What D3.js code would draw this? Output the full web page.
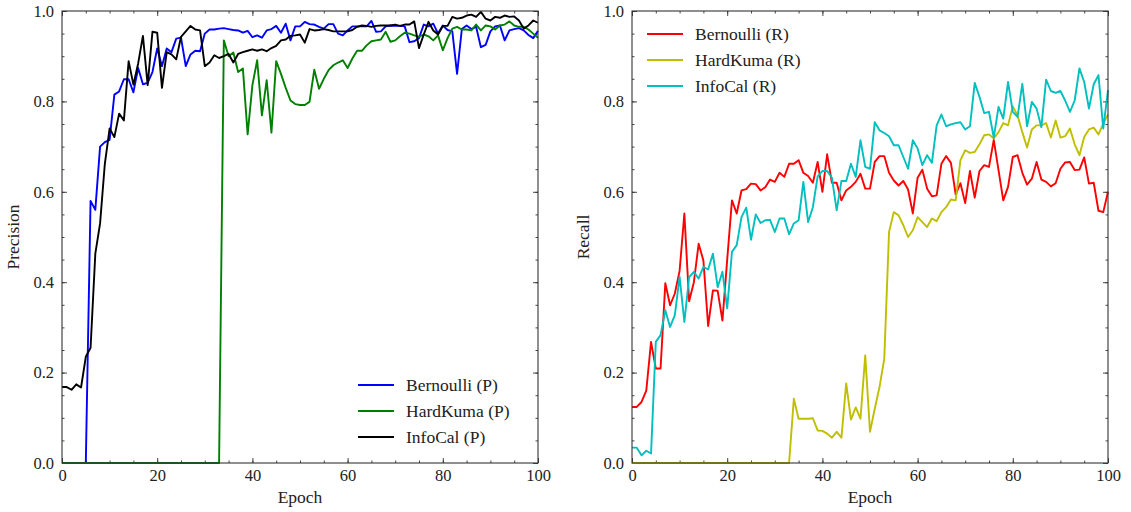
<!DOCTYPE html>
<html>
<head>
<meta charset="utf-8">
<script src="https://cdn.jsdelivr.net/npm/d3@7"></script>
<style>
  body { margin: 0; background: #fff; }
</style>
</head>
<body>
<svg id="chart" width="1131" height="512"></svg>
<script>
// epochs on the x axis
var epochs = d3.range(0, 101);

// precision curves (left panel)
var bernoulliP = [0,0,0,0,0,0,0.58,0.56,0.70,0.71,0.715,0.815,0.822,0.849,0.849,0.82,0.874,0.838,0.841,0.865,
  0.917,0.878,0.917,0.909,0.939,0.941,0.878,0.904,0.912,0.911,0.95,0.959,0.959,0.961,0.962,0.96,0.958,0.957,0.952,0.956,
  0.942,0.946,0.941,0.957,0.96,0.967,0.952,0.972,0.935,0.966,0.966,0.976,0.971,0.97,0.965,0.961,0.971,0.971,0.95,0.946,
  0.957,0.966,0.966,0.966,0.966,0.978,0.954,0.955,0.966,0.968,0.967,0.967,0.966,0.931,0.933,0.94,0.97,0.966,0.972,0.95,
  0.968,0.958,0.955,0.861,0.96,0.968,0.96,0.965,0.92,0.925,0.955,0.966,0.968,0.935,0.957,0.96,0.962,0.957,0.947,0.94,0.956];
var hardkumaP = [0,0,0,0,0,0,0,0,0,0,0,0,0,0,0,0,0,0,0,0,
  0,0,0,0,0,0,0,0,0,0,0,0,0,0,0.935,0.90,0.908,0.865,0.873,0.727,
  0.836,0.891,0.769,0.847,0.731,0.889,0.861,0.83,0.802,0.794,0.792,0.792,0.799,0.870,0.828,0.850,0.869,0.880,0.886,0.891,
  0.874,0.895,0.912,0.912,0.924,0.933,0.935,0.937,0.954,0.932,0.935,0.944,0.952,0.950,0.946,0.943,0.948,0.944,0.935,0.946,
  0.913,0.940,0.961,0.965,0.959,0.959,0.957,0.970,0.957,0.968,0.966,0.959,0.968,0.970,0.977,0.968,0.965,0.965,0.959,0.950,0.941];
var infocalP = [0.168,0.168,0.162,0.174,0.167,0.235,0.255,0.463,0.530,0.662,0.740,0.721,0.773,0.758,0.889,0.837,0.884,0.945,0.836,0.954,
  0.952,0.830,0.909,0.904,0.893,0.943,0.955,0.967,0.959,0.957,0.878,0.886,0.902,0.896,0.900,0.905,0.886,0.905,0.909,0.912,
  0.915,0.912,0.915,0.911,0.918,0.923,0.935,0.937,0.945,0.946,0.948,0.930,0.960,0.957,0.958,0.960,0.958,0.955,0.955,0.955,
  0.955,0.958,0.965,0.968,0.967,0.965,0.967,0.968,0.968,0.968,0.970,0.967,0.970,0.970,0.977,0.918,0.948,0.976,0.957,0.948,
  0.967,0.967,0.987,0.983,0.985,0.990,0.992,0.987,0.998,0.983,0.979,0.987,0.985,0.990,0.987,0.988,0.979,0.961,0.968,0.979,0.974];

// recall curves (right panel)
var bernoulliR = [0.124,0.124,0.135,0.16,0.268,0.209,0.209,0.398,0.349,0.375,0.425,0.552,0.358,0.40,0.485,0.448,0.303,0.382,0.381,0.315,
  0.45,0.581,0.552,0.603,0.606,0.618,0.617,0.603,0.61,0.627,0.622,0.642,0.633,0.662,0.662,0.670,0.642,0.635,0.62,0.666,
  0.60,0.683,0.62,0.62,0.581,0.603,0.611,0.622,0.640,0.607,0.607,0.666,0.679,0.679,0.642,0.625,0.614,0.624,0.605,0.552,
  0.631,0.649,0.607,0.590,0.592,0.662,0.679,0.664,0.594,0.619,0.575,0.646,0.587,0.646,0.659,0.655,0.715,0.648,0.581,0.611,
  0.677,0.681,0.642,0.616,0.629,0.666,0.627,0.622,0.612,0.619,0.651,0.665,0.666,0.648,0.649,0.676,0.618,0.620,0.558,0.555,0.600];
var hardkumaR = [0,0,0,0,0,0,0,0,0,0,0,0,0,0,0,0,0,0,0,0,
  0,0,0,0,0,0,0,0,0,0,0,0,0,0,0.142,0.098,0.098,0.098,0.099,0.072,
  0.071,0.065,0.056,0.069,0.056,0.176,0.096,0.123,0.098,0.238,0.069,0.120,0.168,0.231,0.511,0.555,0.548,0.526,0.500,0.515,
  0.544,0.533,0.522,0.541,0.535,0.555,0.566,0.583,0.581,0.670,0.692,0.686,0.688,0.705,0.725,0.727,0.718,0.732,0.752,0.747,
  0.789,0.769,0.732,0.698,0.738,0.747,0.747,0.752,0.720,0.758,0.720,0.723,0.740,0.705,0.681,0.721,0.738,0.742,0.727,0.751,0.771];
var infocalR = [0.034,0.034,0.017,0.027,0.021,0.268,0.283,0.338,0.301,0.327,0.412,0.312,0.411,0.423,0.408,0.434,0.428,0.463,0.389,0.423,
  0.342,0.467,0.482,0.544,0.565,0.494,0.550,0.531,0.537,0.538,0.511,0.541,0.541,0.506,0.530,0.537,0.622,0.533,0.566,0.634,
  0.646,0.646,0.631,0.559,0.624,0.624,0.662,0.633,0.714,0.655,0.651,0.754,0.736,0.730,0.723,0.703,0.703,0.677,0.651,0.714,
  0.696,0.659,0.681,0.664,0.747,0.771,0.745,0.749,0.752,0.754,0.738,0.745,0.841,0.810,0.774,0.777,0.720,0.788,0.762,0.843,
  0.777,0.766,0.839,0.745,0.799,0.784,0.743,0.848,0.823,0.819,0.823,0.802,0.777,0.802,0.873,0.843,0.784,0.838,0.858,0.740,0.825];

var xTicks = [0, 20, 40, 60, 80, 100];
var yTicks = [0, 0.2, 0.4, 0.6, 0.8, 1.0];

var FONT = "'Liberation Serif', 'Times New Roman', serif";
var svg = d3.select("#chart").style("font-family", FONT);
var top_ = 11, bottom_ = 463;

function panel(left, right, ylabel, series, legendPos) {
  var x = d3.scaleLinear().domain([0, 100]).range([left, right]);
  var y = d3.scaleLinear().domain([0, 1]).range([bottom_, top_]);
  var g = svg.append("g");

  var minorX = d3.range(0, 101, 5), minorY = d3.range(0, 1.0001, 0.05);

  // bottom + left axes with labels, ticks pointing inward
  g.append("g").attr("transform", "translate(0," + bottom_ + ")")
    .call(d3.axisBottom(x).tickValues(minorX).tickSize(-2.5).tickFormat(""));
  g.append("g").attr("transform", "translate(0," + bottom_ + ")")
    .call(d3.axisBottom(x).tickValues(xTicks).tickSize(-5).tickPadding(6).tickFormat(d3.format("d")));
  g.append("g").attr("transform", "translate(" + left + ",0)")
    .call(d3.axisLeft(y).tickValues(minorY).tickSize(-2.5).tickFormat(""));
  g.append("g").attr("transform", "translate(" + left + ",0)")
    .call(d3.axisLeft(y).tickValues(yTicks).tickSize(-5).tickPadding(8).tickFormat(d3.format(".1f")));
  // mirrored ticks on top + right
  g.append("g").attr("transform", "translate(0," + top_ + ")")
    .call(d3.axisTop(x).tickValues(minorX).tickSize(-2.5).tickFormat(""));
  g.append("g").attr("transform", "translate(0," + top_ + ")")
    .call(d3.axisTop(x).tickValues(xTicks).tickSize(-5).tickFormat(""));
  g.append("g").attr("transform", "translate(" + right + ",0)")
    .call(d3.axisRight(y).tickValues(minorY).tickSize(-2.5).tickFormat(""));
  g.append("g").attr("transform", "translate(" + right + ",0)")
    .call(d3.axisRight(y).tickValues(yTicks).tickSize(-5).tickFormat(""));

  g.selectAll(".domain").remove();
  g.selectAll("g").attr("font-family", null);
  g.selectAll(".tick line").attr("stroke", "#333").attr("stroke-width", 0.9);
  g.selectAll(".tick text").style("font-size", "16.5px").style("font-family", FONT).attr("fill", "#222");

  var line = d3.line().x(function(d, i) { return x(epochs[i]); }).y(function(d) { return y(d); });
  series.forEach(function(s) {
    g.append("path").datum(s.values)
      .attr("fill", "none").attr("stroke", s.color).attr("stroke-width", 1.9)
      .attr("stroke-linejoin", "round").attr("d", line);
  });

  g.append("rect").attr("x", left).attr("y", top_).attr("width", right - left).attr("height", bottom_ - top_)
    .attr("fill", "none").attr("stroke", "#333").attr("stroke-width", 1.1);

  g.append("text").attr("x", (left + right) / 2).attr("y", 503).attr("text-anchor", "middle")
    .style("font-family", FONT).style("font-size", "17.5px").attr("fill", "#222").text("Epoch");
  g.append("text").attr("transform", "translate(" + (left - 43) + "," + ((top_ + bottom_) / 2) + ") rotate(-90)")
    .attr("text-anchor", "middle").style("font-family", FONT).style("font-size", "17.5px").attr("fill", "#222").text(ylabel);

  var lg = g.append("g").attr("transform", "translate(" + legendPos[0] + "," + legendPos[1] + ")");
  series.forEach(function(s, i) {
    lg.append("line").attr("x1", 0).attr("x2", 36).attr("y1", i * 26).attr("y2", i * 26)
      .attr("stroke", s.color).attr("stroke-width", 1.9);
    lg.append("text").attr("x", 48).attr("y", i * 26).attr("dy", "0.35em")
      .style("font-family", FONT).style("font-size", "17.5px").attr("fill", "#222").text(s.name);
  });
}

panel(62, 538, "Precision", [
  { name: "Bernoulli (P)", color: "#0000ff", values: bernoulliP },
  { name: "HardKuma (P)", color: "#008000", values: hardkumaP },
  { name: "InfoCal (P)", color: "#000000", values: infocalP }
], [358, 385]);

panel(632, 1108, "Recall", [
  { name: "Bernoulli (R)", color: "#ff0000", values: bernoulliR },
  { name: "HardKuma (R)", color: "#bfbf00", values: hardkumaR },
  { name: "InfoCal (R)", color: "#00bfbf", values: infocalR }
], [647, 34]);
</script>
</body>
</html>
